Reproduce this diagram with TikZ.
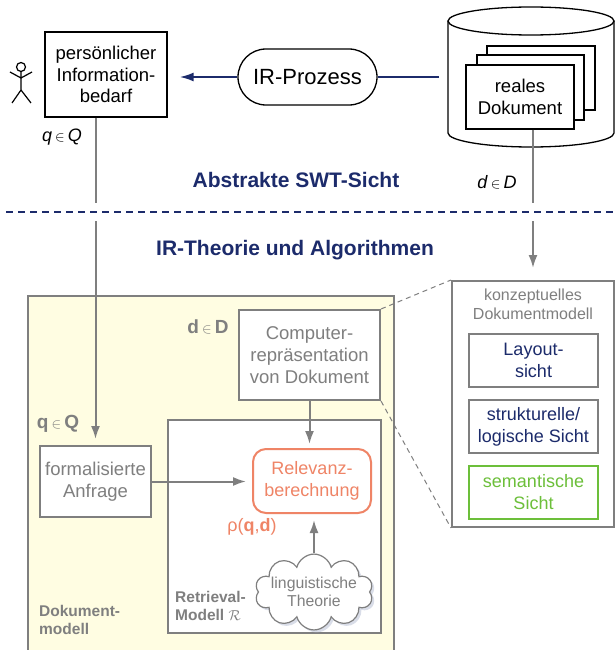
\documentclass[tikz,border=0pt]{standalone}
\usepackage{fontspec}
\setmainfont{Liberation Sans}
\usetikzlibrary{positioning,arrows.meta,shapes.symbols,shadows}
\definecolor{swtnavy}{HTML}{1C2B6B}
\definecolor{swtgray}{HTML}{7F7F7F}
\definecolor{swtsalmon}{HTML}{EF8466}
\definecolor{swtgreen}{HTML}{6CBF3A}
\definecolor{swtcream}{HTML}{FFFDE2}
\definecolor{swtshadow}{HTML}{B5BDD3}
\begin{document}
\begin{tikzpicture}[x=1pt, y=-1pt,
    blackbox/.style={draw=black, line width=1.3pt, fill=white, align=center, inner sep=1pt, font=\fontsize{18.5}{21.7}\selectfont},
    graybox/.style={draw=swtgray, line width=2pt, fill=white, align=center, inner sep=1pt, text=swtgray, font=\fontsize{18.5}{22}\selectfont},
    viewbox/.style={graybox, minimum width=129pt, minimum height=53pt, text=swtnavy, font=\fontsize{18}{22}\selectfont},
    grayarrow/.style={draw=swtgray, line width=2pt, -{Latex[length=13pt,width=9pt]}},
    navyline/.style={draw=swtnavy, line width=2pt},
    heading/.style={text=swtnavy, font=\bfseries\fontsize{21}{24}\selectfont},
    graylabel/.style={text=swtgray, font=\bfseries\fontsize{15.5}{18.3}\selectfont, align=left, anchor=north west, inner sep=0pt},
    setlabel/.style={font=\fontsize{18}{20}\selectfont}
]
\useasboundingbox (0,0) rectangle (615,650);

% Benutzer und Informationsbedarf
\draw[line width=1.2pt] (21,67) circle (4.5);
\draw[line width=1.2pt] (21,71.5) -- (21,90) (10,72) -- (21,78) -- (32,72) (12,103) -- (21,90) -- (31,103);
\node[blackbox, minimum width=122pt, minimum height=85pt] (info) at (106,74.5) {persönlicher\\Information-\\bedarf};
\node[blackbox, rounded corners=28pt, minimum width=139pt, minimum height=56pt, font=\fontsize{22}{24}\selectfont] (ir) at (307.5,77) {IR-Prozess};

% Datenbank mit Dokumenten
\draw[line width=1.3pt, fill=white] (448,21) -- (448,133) .. controls (448,140.7) and (485.2,147) .. (531,147) .. controls (576.8,147) and (614,140.7) .. (614,133) -- (614,21);
\draw[line width=1.3pt, fill=white] (531,21) ellipse [x radius=83, y radius=14];
\coordinate (dbw) at (448,77);
\draw[line width=1.3pt, fill=white] (487,46) rectangle (595,110);
\draw[line width=1.3pt, fill=white] (477,55) rectangle (584,120);
\node[blackbox, minimum width=108pt, minimum height=64pt] (doc) at (520,97) {reales\\Dokument};

\draw[navyline, shorten <=9pt] (dbw) -- (ir.east);
\draw[navyline, -{Latex[length=14pt,width=9pt]}, shorten >=12pt] (ir.west) -- (ir.west -| info.east);

\node[setlabel] (qQ) at (62,137) {\textit{q}\,{\fontsize{14}{14}\selectfont$\in$}\,\textit{Q}};
\node[setlabel] (dD) at (497,182) {\textit{d}\,{\fontsize{14}{14}\selectfont$\in$}\,\textit{D}};
\node[heading] (swt) at (296,180) {Abstrakte SWT-Sicht};
\node[heading] (theo) at (295,250) {IR-Theorie und Algorithmen};

% Dokumentmodell
\node[draw=swtgray, line width=2pt, fill=swtcream, minimum width=366pt, minimum height=364pt] (dm) at (211,478) {};
\node[graybox, minimum width=141pt, minimum height=90pt] (comp) at (309.5,355) {Computer-\\repräsentation\\von Dokument};
\node[graybox, minimum width=111pt, minimum height=71pt] (anfrage) at (95.5,481.5) {formalisierte\\Anfrage};
\node[draw=swtgray, line width=2pt, fill=white, minimum width=213pt, minimum height=213pt] (rm) at (274.5,526.5) {};
\node[draw=swtsalmon, line width=2pt, fill=white, rounded corners=13pt, text=swtsalmon, align=center, minimum width=118pt, minimum height=64pt, font=\fontsize{18}{22}\selectfont] (rel) at (312,481) {Relevanz-\\berechnung};
\node[cloud, cloud puffs=10, aspect=1.8, draw=swtgray, line width=1.2pt, fill=white, drop shadow={shadow xshift=2.5pt, shadow yshift=-2.5pt, fill=swtshadow}, text=swtgray, align=center, minimum width=118pt, minimum height=70pt, inner sep=-8pt, font=\fontsize{15.8}{18}\selectfont] (theorie) at (314,592) {linguistische\\Theorie};
\node[text=swtsalmon, font=\fontsize{18}{20}\selectfont] (rho) at (252,527) {ρ(\textbf{q},\textbf{d})};
\node[graylabel] (dmlabel) at (39,605) {Dokument-\\modell};
\node[graylabel] (rmlabel) at (175,591) {Retrieval-\\Modell {\mdseries$\mathcal{R}$}};
\node[text=swtgray, font=\bfseries\fontsize{19}{20}\selectfont] (dDb) at (208,327) {d\,{\mdseries\fontsize{14}{14}\selectfont$\in$}\,D};
\node[text=swtgray, font=\bfseries\fontsize{19}{20}\selectfont] (qQb) at (58,424) {q\,{\mdseries\fontsize{14}{14}\selectfont$\in$}\,Q};

% konzeptuelles Dokumentmodell
\node[draw=swtgray, line width=2pt, fill=white, minimum width=162pt, minimum height=246pt] (konz) at (533,404) {};
\node[text=swtgray, align=center, anchor=north, font=\fontsize{16}{19}\selectfont] (konztitle) at (533,285) {konzeptuelles\\Dokumentmodell};
\node[viewbox] (layout) at (533.5,360.5) {Layout-\\sicht};
\node[viewbox, below=11pt of layout] (struct) {strukturelle/\\logische Sicht};
\node[viewbox, below=11pt of struct, draw=swtgreen, text=swtgreen] (sem) {semantische\\Sicht};
\draw[swtgray, line width=1pt, dash pattern=on 5pt off 4pt] (comp.north east) -- (konz.north west);
\draw[swtgray, line width=1pt, dash pattern=on 5pt off 4pt] (comp.south east) -- (konz.south west);

% Verbindungen
\draw[grayarrow, shorten >=6pt] (anfrage.north |- info.south) -- (anfrage.north);
\draw[grayarrow, shorten >=12pt] (doc.south -| konz.north) -- (konz.north);
\draw[grayarrow, shorten >=4pt] (comp.south) -- (comp.south |- rel.north);
\draw[grayarrow, shorten >=6pt] (anfrage.east) -- (anfrage.east -| rel.west);
\draw[grayarrow, shorten >=6pt] (theorie.north) -- (theorie.north |- rel.south);

\draw[swtnavy, line width=2.5pt, dash pattern=on 7pt off 5pt, preaction={draw=white, solid, line width=18pt}] (6,212) -- (615,212);
\end{tikzpicture}
\end{document}
